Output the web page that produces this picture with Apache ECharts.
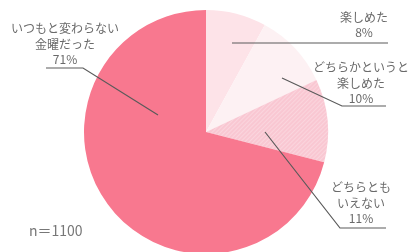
<!DOCTYPE html>
<html><head><meta charset="utf-8">
<script src="https://cdn.jsdelivr.net/npm/echarts@6/dist/echarts.min.js"></script>
<style>html,body{margin:0;padding:0;background:#fff}#c{width:417px;height:252px}</style>
</head><body><div id="c"></div>
<script>
const categories = ['楽しめた', 'どちらかというと\n楽しめた', 'どちらとも\nいえない', 'いつもと変わらない\n金曜だった'];
const values = [8, 10, 11, 71];
const sampleLabel = 'n＝1100';

const colors = ['#fde3e8', '#fdf1f3', '#f9c7d2', '#f8788f'];
// annotation placement (label centre + leader line)
const labelPos = [
  {x: 364, y: 25, line: [[232, 43], [310, 43], [388, 43]]},
  {x: 361, y: 83, line: [[282, 78], [342, 106], [386, 106]]},
  {x: 361, y: 203, line: [[265, 132], [340, 228], [386, 228]]},
  {x: 65, y: 44, line: [[158, 115], [83, 68], [46, 68]]}
];

const font = '12px "Noto Sans CJK JP", sans-serif';
const graphics = [{
  type: 'text', left: 29, top: 224,
  style: {text: sampleLabel, fill: '#777', font: '14px "Noto Sans CJK JP", sans-serif'}
}];
categories.forEach((c, i) => {
  const p = labelPos[i];
  graphics.push({
    type: 'polyline', z: 10, silent: true,
    shape: {points: p.line},
    style: {stroke: '#5a5a5a', lineWidth: 1.2, fill: null}
  });
  graphics.push({
    type: 'text', z: 10, silent: true, x: p.x, y: p.y,
    style: {text: c + '\n' + values[i] + '%', fill: '#6a6a6a', font: font, lineHeight: 15.5,
      align: 'center', verticalAlign: 'middle'}
  });
});

const chart = echarts.init(document.getElementById('c'), null, {renderer: 'canvas'});
chart.setOption({
  animation: false,
  backgroundColor: '#fff',
  graphic: graphics,
  series: [{
    type: 'pie',
    center: [206, 132],
    radius: 122,
    startAngle: 90,
    clockwise: true,
    silent: true,
    label: {show: false},
    labelLine: {show: false},
    data: categories.map((c, i) => ({
      name: c, value: values[i],
      itemStyle: i === 2 ? {color: colors[i], decal: {symbol: 'rect', dashArrayX: [1, 0], dashArrayY: [1, 2], rotation: -Math.PI / 4, color: 'rgba(255,255,255,0.25)'}} : {color: colors[i]}
    }))
  }]
});
</script></body></html>
